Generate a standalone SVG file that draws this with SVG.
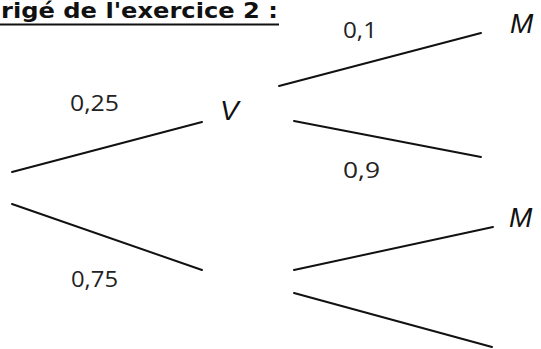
<svg xmlns="http://www.w3.org/2000/svg" width="541" height="349" viewBox="0 0 541 349">
  <style>
    .title { font-family: "Comic Sans MS", "DejaVu Sans", sans-serif; font-weight: bold; font-size: 21px; fill: #111; }
    .prob { font-family: "Open Sans", "Liberation Sans", sans-serif; font-size: 21px; fill: #222; }
    .event { font-family: "Liberation Sans", Arial, sans-serif; font-style: italic; font-size: 28px; fill: #111; }
    .branch { stroke: #111; stroke-width: 2; stroke-linecap: round; fill: none; }
  </style>
  <rect width="541" height="349" fill="#fff"/>

  <!-- heading -->
  <g id="heading">
    <text class="title" x="1" y="18" textLength="277" lengthAdjust="spacingAndGlyphs">rigé de l'exercice 2 :</text>
    <line x1="0" y1="24.5" x2="279" y2="24.5" stroke="#111" stroke-width="2"/>
  </g>

  <!-- tree branches -->
  <g id="connectors">
    <line class="branch" x1="12" y1="172" x2="202" y2="122"/>
    <line class="branch" x1="12" y1="204" x2="202" y2="270"/>
    <line class="branch" x1="279" y1="86" x2="481" y2="33"/>
    <line class="branch" x1="294" y1="121" x2="481" y2="157"/>
    <line class="branch" x1="294" y1="270" x2="493" y2="227"/>
    <line class="branch" x1="294" y1="293" x2="492" y2="347"/>
  </g>

  <!-- branch probabilities -->
  <g id="p-v">
    <text class="prob" x="70" y="111" textLength="49" lengthAdjust="spacingAndGlyphs">0,25</text>
  </g>
  <g id="p-notv">
    <text class="prob" x="71" y="287" textLength="47" lengthAdjust="spacingAndGlyphs">0,75</text>
  </g>
  <g id="p-m-v">
    <text class="prob" x="343" y="38" textLength="34" lengthAdjust="spacingAndGlyphs">0,1</text>
  </g>
  <g id="p-notm-v">
    <text class="prob" x="343" y="178" textLength="37" lengthAdjust="spacingAndGlyphs">0,9</text>
  </g>

  <!-- events -->
  <g id="node-v">
    <text class="event" x="220" y="120">V</text>
  </g>
  <g id="node-m-top">
    <text class="event" x="510" y="33">M</text>
  </g>
  <g id="node-m-bottom">
    <text class="event" x="509" y="227">M</text>
  </g>
</svg>
